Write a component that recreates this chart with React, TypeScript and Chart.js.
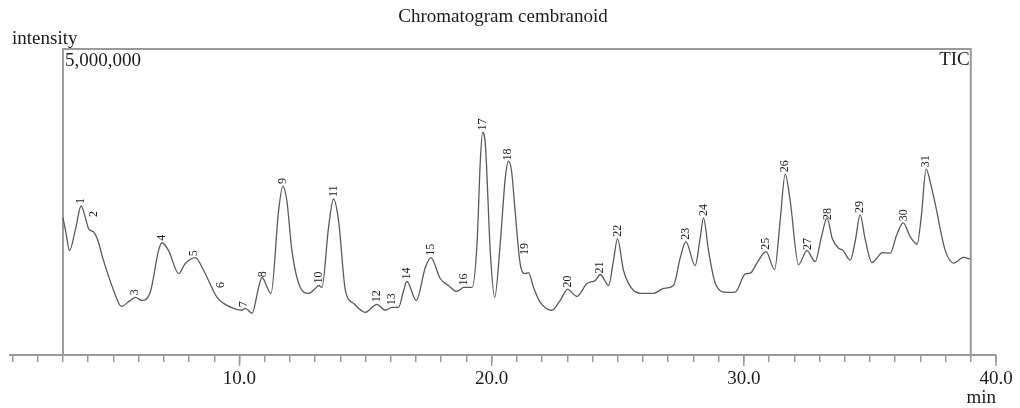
import React, { useEffect, useRef } from "react";
import { Chart, registerables } from "chart.js";

Chart.register(...registerables);

// Retention time (min)
const retentionTimes = [
  3.0, 3.12, 3.26, 3.5, 3.72, 3.87, 4.02, 4.21, 4.36, 4.61, 5.01, 5.31, 5.67, 5.87, 6.13, 6.46, 6.79, 6.93,
  7.19, 7.59, 7.85, 8.25, 8.58, 9.11, 9.37, 9.77, 10.1, 10.23, 10.5, 10.76, 10.89, 11.25, 11.55, 11.72,
  11.88, 12.08, 12.41, 12.74, 13.01, 13.14, 13.27, 13.53, 13.73, 13.93, 14.2, 14.52, 14.99, 15.45, 15.78,
  16.05, 16.31, 16.51, 16.64, 17.01, 17.37, 17.59, 17.96, 18.29, 18.62, 18.89, 19.22, 19.42, 19.55, 19.64,
  19.75, 19.95, 20.12, 20.34, 20.54, 20.67, 20.79, 20.93, 21.13, 21.33, 21.46, 21.66, 21.93, 22.39, 22.72,
  23.01, 23.38, 23.78, 24.11, 24.31, 24.64, 24.83, 24.99, 25.23, 25.63, 26.02, 26.42, 26.82, 27.21, 27.48,
  27.7, 28.07, 28.27, 28.4, 28.6, 28.87, 29.33, 29.66, 30.06, 30.25, 30.53, 30.88, 31.22, 31.44, 31.64,
  31.84, 32.17, 32.5, 32.83, 33.07, 33.3, 33.51, 33.76, 33.94, 34.22, 34.42, 34.61, 34.81, 35.08, 35.29,
  35.48, 35.81, 36.05, 36.32, 36.6, 36.87, 37.04, 37.23, 37.43, 37.59, 37.99, 38.32, 38.71, 38.98,
];

// Total ion current intensity
const intensities = [
  2240000, 1997000, 1705000, 2062000, 2435000, 2273000, 2062000, 2013000, 1899000, 1542000, 1055000, 795000,
  893000, 942000, 893000, 1023000, 1705000, 1834000, 1705000, 1331000, 1494000, 1591000, 1380000, 942000,
  844000, 763000, 731000, 763000, 682000, 1104000, 1266000, 1006000, 2354000, 2760000, 2516000, 1705000,
  1104000, 1006000, 1088000, 1136000, 1104000, 2078000, 2549000, 2192000, 1055000, 844000, 698000, 828000,
  731000, 779000, 779000, 1055000, 1201000, 893000, 1429000, 1591000, 1250000, 1136000, 1039000, 1104000,
  1104000, 1818000, 3166000, 3636000, 3442000, 1656000, 942000, 1818000, 2890000, 3166000, 3003000, 2354000,
  1494000, 1331000, 1347000, 1104000, 860000, 731000, 893000, 1071000, 958000, 1169000, 1218000, 1315000,
  1136000, 1542000, 1899000, 1380000, 1055000, 1006000, 1006000, 1088000, 1136000, 1591000, 1851000,
  1461000, 1916000, 2240000, 1705000, 1169000, 1023000, 1028000, 1326000, 1336000, 1510000, 1688000,
  1396000, 2192000, 2955000, 2516000, 1477000, 1705000, 1526000, 1916000, 2240000, 1899000, 1745000,
  1705000, 1550000, 1867000, 2289000, 1899000, 1510000, 1591000, 1672000, 1664000, 1948000, 2159000,
  1932000, 1810000, 2273000, 3036000, 2760000, 2468000, 1705000, 1502000, 1596000, 1570000,
];

// Peak numbering
const peakNumbers = [
  "1", "2", "3", "4", "5", "6", "7", "8", "9", "10", "11", "12", "13", "14", "15", "16",
  "17", "18", "19", "20", "21", "22", "23", "24", "25", "26", "27", "28", "29", "30", "31",
];
const peakTimes = [
  3.72, 4.21, 5.87, 6.93, 8.21, 9.28, 10.16, 10.93, 11.72, 13.14, 13.73, 15.45, 16.05, 16.64, 17.59, 18.89,
  19.64, 20.66, 21.33, 23.01, 24.28, 24.99, 27.7, 28.4, 30.88, 31.64, 32.54, 33.34, 34.61, 36.33, 37.23,
];
// Shoulder peaks whose number sits above the trace (label base intensity)
const shoulderLabelIntensity: Record<string, number> = {
  "2": 2222000,
  "6": 1062000,
  "19": 1601000,
};

const majorTicks = [10, 20, 30, 40];
const axisStart = 0.9;
const axisEnd = 40;
const windowStart = 3;
const windowEnd = 39;
const intensityTop = 5000000;
const intensityTopLabel = "5,000,000";
const chartTitle = "Chromatogram cembranoid";
const yTitle = "intensity";
const xUnit = "min";
const traceName = "TIC";

function intensityAt(t: number): number {
  for (let i = 0; i < retentionTimes.length - 1; i++) {
    const a = retentionTimes[i];
    const b = retentionTimes[i + 1];
    if (t >= a && t <= b) {
      const f = (t - a) / (b - a);
      return intensities[i] + f * (intensities[i + 1] - intensities[i]);
    }
  }
  return intensities[intensities.length - 1];
}

export default function App() {
  const ref = useRef<HTMLCanvasElement>(null);

  useEffect(() => {
    if (!ref.current) return;
    const serif = '"Liberation Serif", "DejaVu Serif", serif';
    const textColor = "#1c1c1c";
    const frameColor = "#9a9a9a";

    const minorTicks: number[] = [];
    for (let v = 1; v <= axisEnd; v++) minorTicks.push(v);

    const overlay = {
      id: "chromOverlay",
      beforeDatasetsDraw(chart: any) {
        const { ctx, chartArea, scales } = chart;
        const x = scales.x;
        const y = scales.y;
        const xl = x.getPixelForValue(windowStart);
        const xr = x.getPixelForValue(windowEnd);
        const yt = y.getPixelForValue(intensityTop);
        ctx.save();
        ctx.strokeStyle = frameColor;
        ctx.lineWidth = 2;
        ctx.beginPath();
        ctx.moveTo(xl, chartArea.bottom);
        ctx.lineTo(xl, yt);
        ctx.lineTo(xr, yt);
        ctx.lineTo(xr, chartArea.bottom);
        ctx.stroke();
        ctx.lineWidth = 1.5;
        majorTicks.forEach((v) => {
          const px = x.getPixelForValue(v);
          ctx.beginPath();
          ctx.moveTo(px, chartArea.bottom);
          ctx.lineTo(px, chartArea.bottom + 11);
          ctx.stroke();
        });
        ctx.restore();
      },
      afterDraw(chart: any) {
        const { ctx, chartArea, scales } = chart;
        const x = scales.x;
        const y = scales.y;
        ctx.save();
        ctx.fillStyle = textColor;
        ctx.font = `19px ${serif}`;
        ctx.textBaseline = "alphabetic";
        ctx.textAlign = "center";
        ctx.fillText(chartTitle, (chartArea.left + chartArea.right) / 2, 22);
        ctx.textAlign = "left";
        ctx.fillText(yTitle, 12, 44);
        const xl = x.getPixelForValue(windowStart);
        const xr = x.getPixelForValue(windowEnd);
        const yt = y.getPixelForValue(intensityTop);
        ctx.fillText(intensityTopLabel, xl + 2, yt + 17);
        ctx.textAlign = "right";
        ctx.fillText(traceName, xr - 1, yt + 16);
        ctx.fillText(xUnit, x.getPixelForValue(axisEnd), chartArea.bottom + 48);

        ctx.font = `12px ${serif}`;
        ctx.textAlign = "left";
        ctx.textBaseline = "middle";
        peakTimes.forEach((t, i) => {
          const label = peakNumbers[i];
          const base = shoulderLabelIntensity[label] ?? intensityAt(t);
          const px = x.getPixelForValue(t);
          const py = y.getPixelForValue(base) - 2;
          ctx.save();
          ctx.translate(px, py);
          ctx.rotate(-Math.PI / 2);
          ctx.fillText(label, 0, 0);
          ctx.restore();
        });
        ctx.restore();
      },
    };

    const chart = new Chart(ref.current, {
      type: "line",
      data: {
        datasets: [
          {
            data: retentionTimes.map((t, i) => ({ x: t, y: intensities[i] })),
            borderColor: "#5a5a5a",
            borderWidth: 1.3,
            pointRadius: 0,
            cubicInterpolationMode: "monotone",
            fill: false,
          },
        ],
      },
      options: {
        animation: false,
        responsive: false,
        layout: { padding: { left: 10, right: 24, top: 49, bottom: 0 } },
        plugins: {
          legend: { display: false },
          tooltip: { enabled: false },
          title: { display: false },
        },
        scales: {
          x: {
            type: "linear",
            min: axisStart,
            max: axisEnd,
            afterBuildTicks: (s: any) => {
              s.ticks = minorTicks.map((v) => ({ value: v }));
            },
            afterFit: (s: any) => {
              s.height = 53;
            },
            grid: {
              drawOnChartArea: false,
              drawTicks: true,
              tickLength: 7,
              color: frameColor,
              lineWidth: 1.5,
            },
            border: { display: true, color: frameColor, width: 2 },
            ticks: {
              autoSkip: false,
              maxRotation: 0,
              minRotation: 0,
              padding: 6,
              color: textColor,
              font: { family: serif, size: 19 },
              callback: (v: any) => (majorTicks.includes(Number(v)) ? Number(v).toFixed(1) : ""),
            },
          },
          y: { display: false, min: 0, max: intensityTop },
        },
      },
      plugins: [overlay],
    } as any);

    return () => chart.destroy();
  }, []);

  return (
    <div style={{ position: "fixed", left: 0, top: 0, width: 1020, height: 408, background: "#fff" }}>
      <canvas ref={ref} width={1020} height={408} style={{ display: "block" }} />
    </div>
  );
}
